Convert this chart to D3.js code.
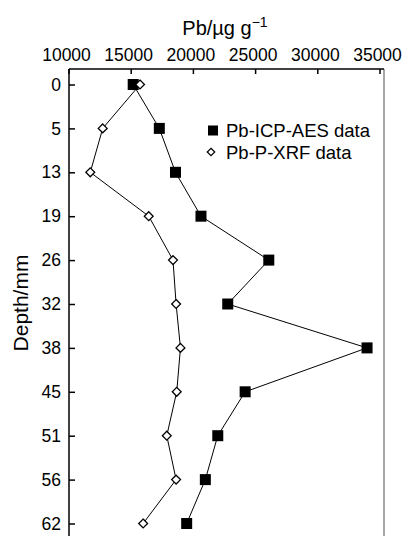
<!DOCTYPE html>
<html>
<head>
<meta charset="utf-8">
<script src="https://cdn.jsdelivr.net/npm/d3@7"></script>
<style>
  body { margin: 0; background: #fff; }
  svg { display: block; font-family: "Liberation Sans", Arial, sans-serif; }
</style>
</head>
<body>
<svg id="chart" width="402" height="536"></svg>
<script>
// depth categories (mm)
var depths = ['0', '5', '13', '19', '26', '32', '38', '45', '51', '56', '62'];
// Pb concentration, ug/g
var icpValues = [15200, 17300, 18600, 20650, 26100, 22800, 34000, 24200, 22000, 21000, 19500];
var xrfValues = [15750, 12750, 11750, 16450, 18400, 18650, 19000, 18700, 17900, 18650, 16000];
var xTicks = [10000, 15000, 20000, 25000, 30000, 35000];

var svg = d3.select('#chart');

var plotL = 69, plotR = 384, plotT = 69, plotB = 536;

var x = d3.scaleLinear().domain([10000, 35000]).range([68.5, 379.5]);
var y = d3.scalePoint().domain(depths).range([84.5, 523.5]);

// frame
svg.append('line').attr('x1', plotR).attr('x2', plotR).attr('y1', plotT).attr('y2', plotB)
  .attr('stroke', '#8a8a8a').attr('stroke-width', 1.5);

var xAxis = svg.append('g')
  .attr('transform', 'translate(0,' + plotT + ')')
  .call(d3.axisTop(x).tickValues(xTicks).tickFormat(d3.format('d')).tickSizeInner(-5).tickSizeOuter(0).tickPadding(8));

var yAxis = svg.append('g')
  .attr('transform', 'translate(' + plotL + ',0)')
  .call(d3.axisLeft(y).tickSizeInner(-6).tickSizeOuter(0).tickPadding(8));

[xAxis, yAxis].forEach(function (g) {
  g.select('.domain').remove();
  g.selectAll('.tick line').attr('stroke', '#000').attr('stroke-width', 1.5);
  g.selectAll('.tick text').attr('fill', '#000').style('font-size', '17.5px');
});
xAxis.selectAll('.tick text').attr('dx', -2.5);

svg.append('line').attr('x1', plotL).attr('x2', plotR).attr('y1', plotT).attr('y2', plotT)
  .attr('stroke', '#000').attr('stroke-width', 1.5);
svg.append('line').attr('x1', plotL).attr('x2', plotL).attr('y1', plotT).attr('y2', plotB)
  .attr('stroke', '#000').attr('stroke-width', 1.5);

// titles
var title = svg.append('text')
  .attr('x', 225).attr('y', 35)
  .attr('text-anchor', 'middle')
  .style('font-size', '20px');
title.append('tspan').text('Pb/\u00b5g g');
title.append('tspan').attr('dy', -8).style('font-size', '14px').text('\u22121');

svg.append('text')
  .attr('transform', 'translate(28,303) rotate(-90)')
  .attr('text-anchor', 'middle')
  .style('font-size', '21px')
  .text('Depth/mm');

// lines
var line = d3.line().x(function (d) { return x(d); }).y(function (d, i) { return y(depths[i]); });

svg.append('path').datum(icpValues).attr('d', line)
  .attr('fill', 'none').attr('stroke', '#000').attr('stroke-width', 1);
svg.append('path').datum(xrfValues).attr('d', line)
  .attr('fill', 'none').attr('stroke', '#000').attr('stroke-width', 1);

var sq = 11;
svg.selectAll('.icp')
  .data(icpValues)
  .enter().append('rect')
  .attr('class', 'icp')
  .attr('x', function (d) { return x(d) - sq / 2; })
  .attr('y', function (d, i) { return y(depths[i]) - sq / 2; })
  .attr('width', sq).attr('height', sq)
  .attr('fill', '#000');

var diamond = d3.symbol().type(d3.symbolDiamond2).size(50);
svg.selectAll('.xrf')
  .data(xrfValues)
  .enter().append('path')
  .attr('class', 'xrf')
  .attr('d', diamond)
  .attr('transform', function (d, i) { return 'translate(' + x(d) + ',' + y(depths[i]) + ')'; })
  .attr('fill', '#fff').attr('stroke', '#000').attr('stroke-width', 1.3);

// legend
var legend = svg.append('g').style('font-size', '18.5px');
legend.append('rect').attr('x', 208).attr('y', 125.5).attr('width', 10).attr('height', 10).attr('fill', '#000');
legend.append('text').attr('x', 226).attr('y', 137).text('Pb-ICP-AES data');
legend.append('path').attr('d', d3.symbol().type(d3.symbolDiamond2).size(36))
  .attr('transform', 'translate(211,152)')
  .attr('fill', '#fff').attr('stroke', '#000').attr('stroke-width', 1.2);
legend.append('text').attr('x', 226).attr('y', 158.5).text('Pb-P-XRF data');
</script>
</body>
</html>
